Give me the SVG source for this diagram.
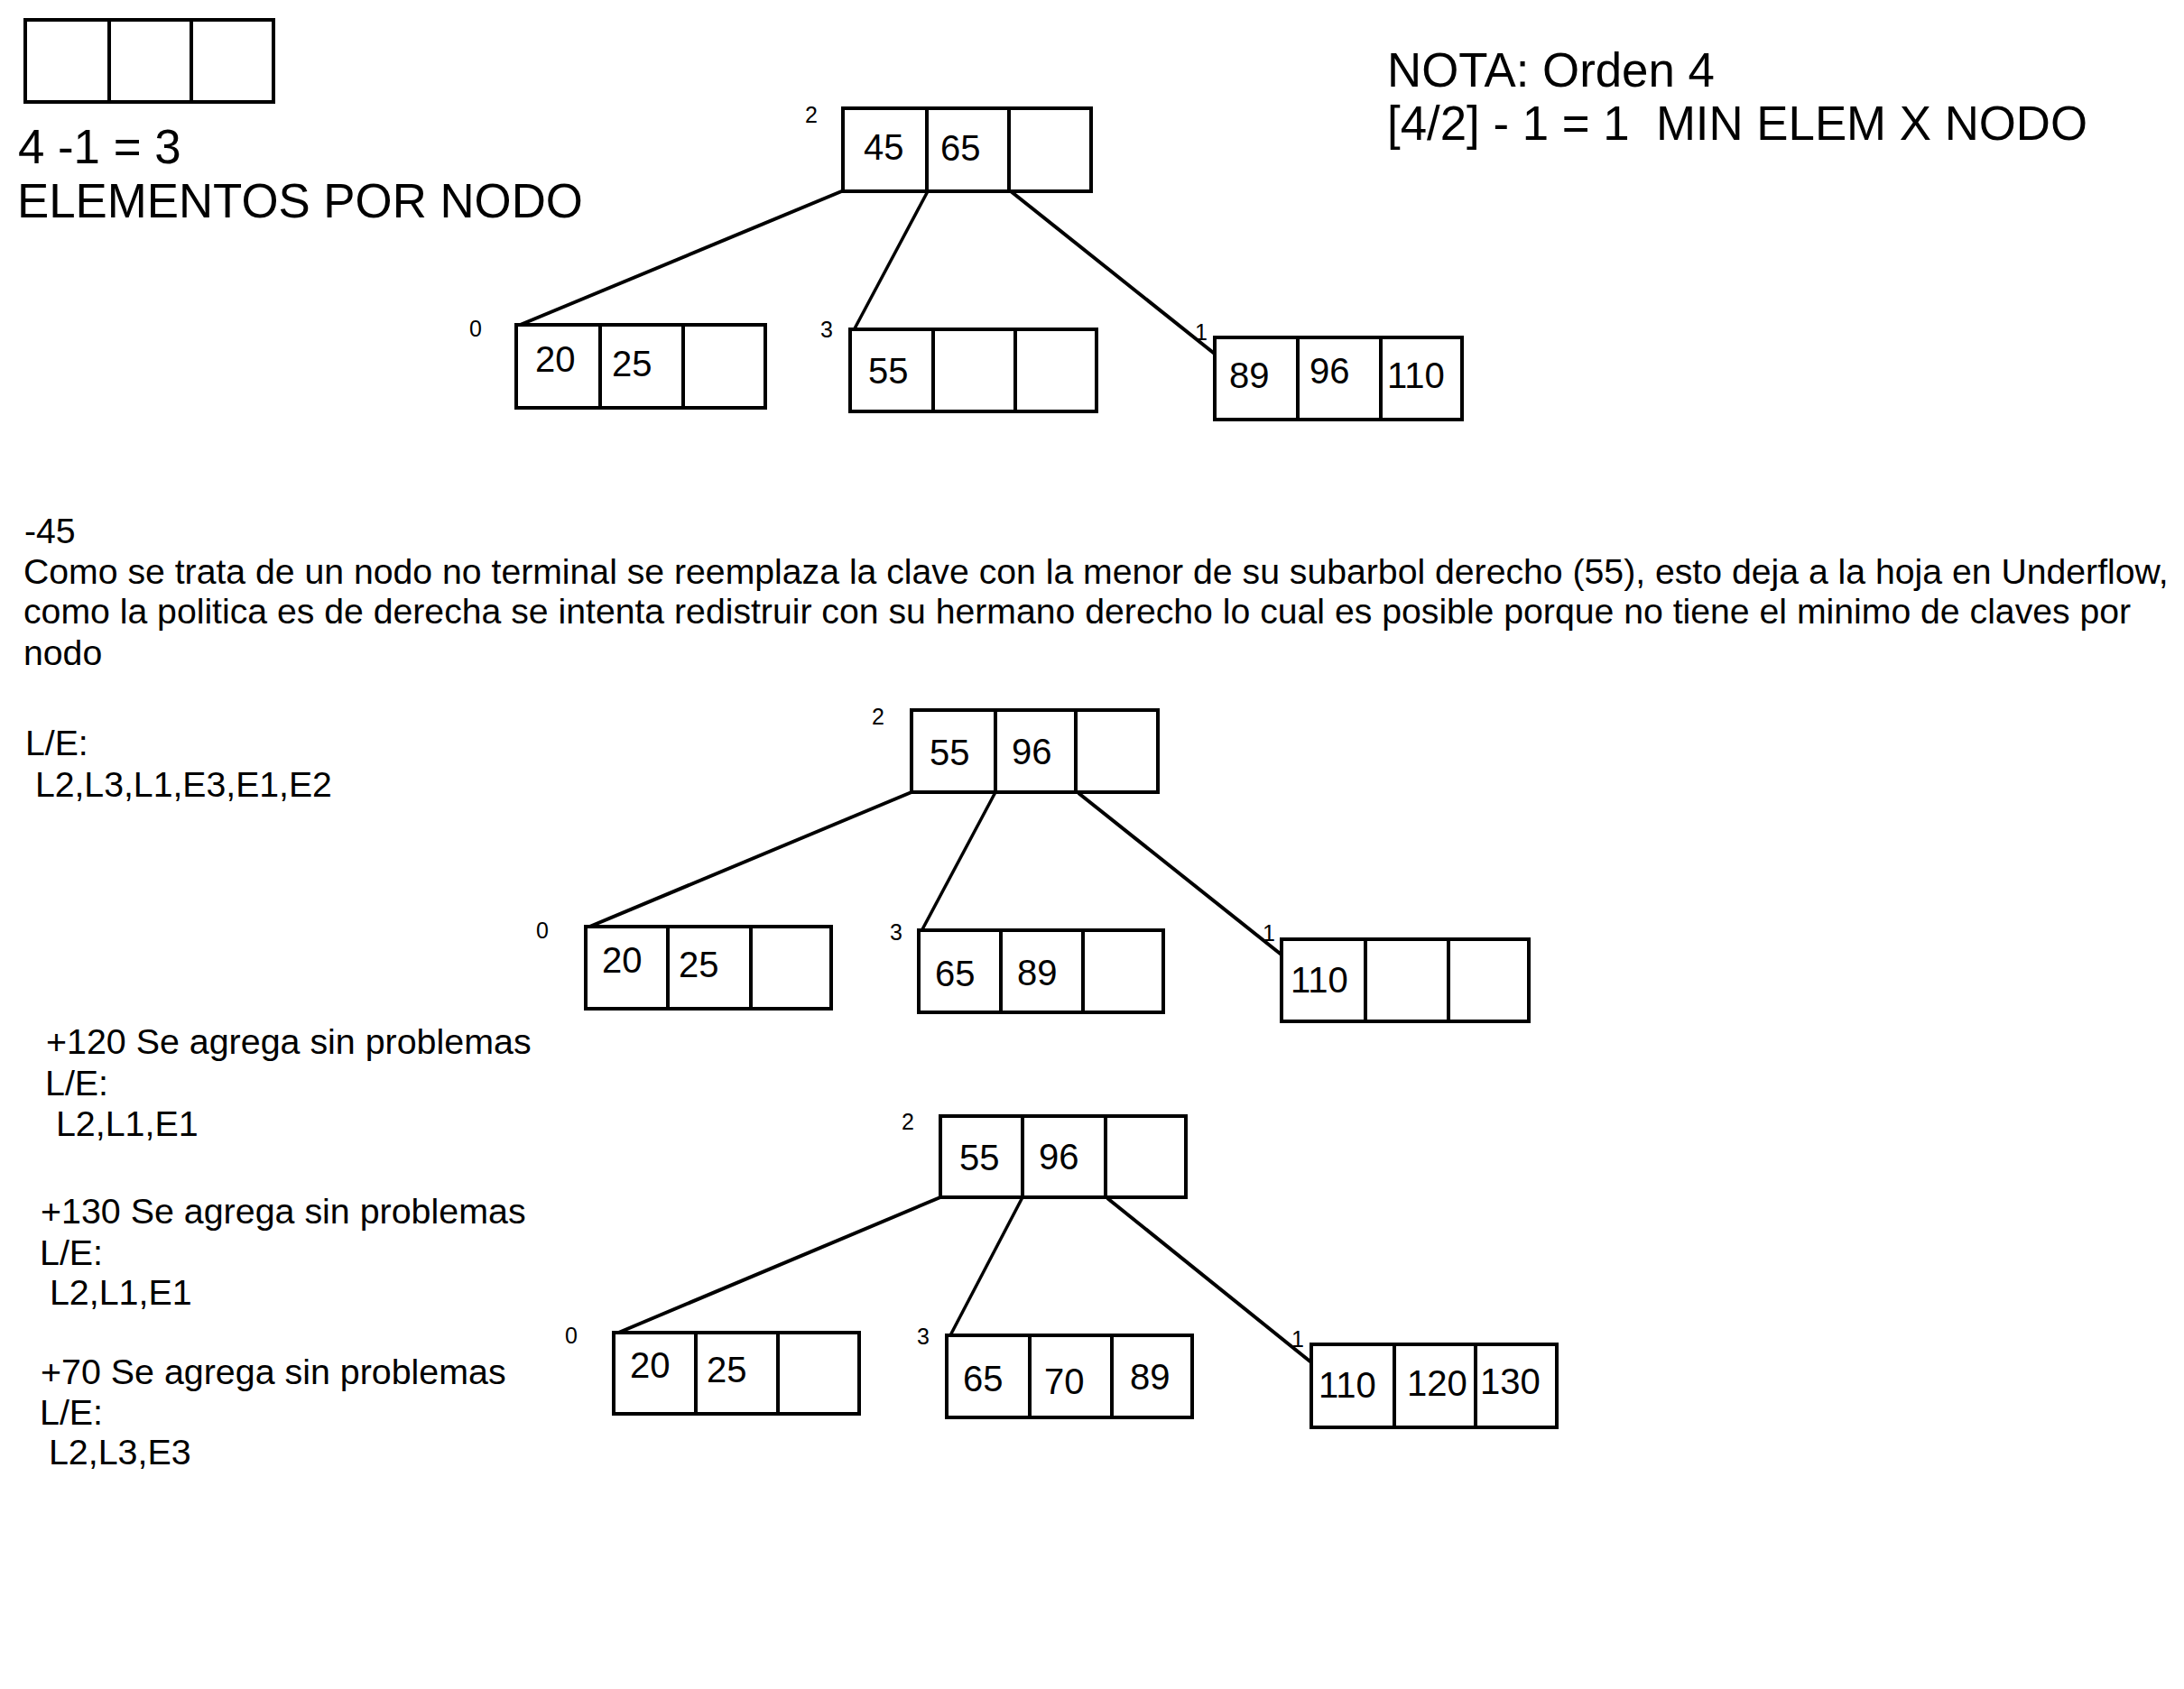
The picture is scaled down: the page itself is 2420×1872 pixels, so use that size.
<svg xmlns="http://www.w3.org/2000/svg" width="2420" height="1872" viewBox="0 0 2420 1872">
<style>
.box{fill:#fff;stroke:#000;stroke-width:4}
.dv{stroke:#000;stroke-width:4}
.cn{stroke:#000;stroke-width:4;fill:none}
.cm{stroke:#000;stroke-width:3.5;fill:none}
.key{font-family:"Liberation Sans",Arial,sans-serif;font-size:40px;fill:#000}
.lbl{font-family:"Liberation Sans",Arial,sans-serif;font-size:25px;fill:#000}
.big{font-family:"Liberation Sans",Arial,sans-serif;font-size:52.8px;fill:#000}
.txt{font-family:"Liberation Sans",Arial,sans-serif;font-size:39.4px;fill:#000}
.par{font-family:"Liberation Sans",Arial,sans-serif;font-size:39.2px;fill:#000}
</style>
<rect width="2420" height="1872" fill="#fff"/>

<g id="legend">
<rect class="box" x="28" y="22" width="275" height="91"/>
<line class="dv" x1="121" y1="22" x2="121" y2="113"/>
<line class="dv" x1="212" y1="22" x2="212" y2="113"/>
<text class="big" x="20" y="181">4 -1 = 3</text>
<text class="big" x="19" y="241">ELEMENTOS POR NODO</text>
</g>

<g id="nota">
<text class="big" x="1537" y="96">NOTA: Orden 4</text>
<text class="big" x="1537" y="155" xml:space="preserve">[4/2] - 1 = 1  MIN ELEM X NODO</text>
</g>

<g id="explicacion">
<text class="par" x="27" y="602">-45</text>
<text class="par" x="26" y="647">Como se trata de un nodo no terminal se reemplaza la clave con la menor de su subarbol derecho (55), esto deja a la hoja en Underflow,</text>
<text class="par" x="26" y="691">como la politica es de derecha se intenta redistruir con su hermano derecho lo cual es posible porque no tiene el minimo de claves por</text>
<text class="par" x="26" y="737">nodo</text>
<text class="par" x="28" y="837">L/E:</text>
<text class="par" x="28" y="883" xml:space="preserve"> L2,L3,L1,E3,E1,E2</text>
</g>

<g id="operaciones">
<text class="txt" x="51" y="1168">+120 Se agrega sin problemas</text>
<text class="txt" x="50" y="1214">L/E:</text>
<text class="txt" x="51" y="1259" xml:space="preserve"> L2,L1,E1</text>
<text class="txt" x="45" y="1356">+130 Se agrega sin problemas</text>
<text class="txt" x="44" y="1402">L/E:</text>
<text class="txt" x="44" y="1446" xml:space="preserve"> L2,L1,E1</text>
<text class="txt" x="45" y="1534">+70 Se agrega sin problemas</text>
<text class="txt" x="44" y="1579">L/E:</text>
<text class="txt" x="43" y="1623" xml:space="preserve"> L2,L3,E3</text>
</g>

<g id="connectors">
<line class="cn" x1="935" y1="211" x2="574" y2="361"/>
<line class="cm" x1="1028" y1="212" x2="946" y2="366"/>
<line class="cn" x1="1120" y1="212" x2="1347" y2="393"/>
<line class="cn" x1="1010" y1="878" x2="651" y2="1028"/>
<line class="cm" x1="1103" y1="878" x2="1021" y2="1032"/>
<line class="cn" x1="1195" y1="879" x2="1421" y2="1059"/>
<line class="cn" x1="1042" y1="1327" x2="683" y2="1478"/>
<line class="cm" x1="1133" y1="1327" x2="1052" y2="1482"/>
<line class="cn" x1="1227" y1="1328" x2="1453" y2="1510"/>
</g>

<g id="t1-root">
<rect class="box" x="934" y="120" width="275" height="92"/>
<line class="dv" x1="1027" y1="120" x2="1027" y2="212"/>
<line class="dv" x1="1118" y1="120" x2="1118" y2="212"/>
<text class="lbl" x="892" y="136">2</text>
<text class="key" x="957" y="177">45</text>
<text class="key" x="1042" y="178">65</text>
</g>
<g id="t1-n0">
<rect class="box" x="572" y="360" width="276" height="92"/>
<line class="dv" x1="665" y1="360" x2="665" y2="452"/>
<line class="dv" x1="757" y1="360" x2="757" y2="452"/>
<text class="lbl" x="520" y="373">0</text>
<text class="key" x="593" y="412">20</text>
<text class="key" x="678" y="417">25</text>
</g>
<g id="t1-n3">
<rect class="box" x="942" y="365" width="273" height="91"/>
<line class="dv" x1="1034" y1="365" x2="1034" y2="456"/>
<line class="dv" x1="1125" y1="365" x2="1125" y2="456"/>
<text class="lbl" x="909" y="374">3</text>
<text class="key" x="962" y="425">55</text>
</g>
<g id="t1-n1">
<rect class="box" x="1346" y="374" width="274" height="91"/>
<line class="dv" x1="1438" y1="374" x2="1438" y2="465"/>
<line class="dv" x1="1530" y1="374" x2="1530" y2="465"/>
<text class="lbl" x="1324" y="377">1</text>
<text class="key" x="1362" y="430">89</text>
<text class="key" x="1451" y="425">96</text>
<text class="key" x="1537" y="430">110</text>
</g>

<g id="t2-root">
<rect class="box" x="1010" y="787" width="273" height="91"/>
<line class="dv" x1="1103" y1="787" x2="1103" y2="878"/>
<line class="dv" x1="1192" y1="787" x2="1192" y2="878"/>
<text class="lbl" x="966" y="803">2</text>
<text class="key" x="1030" y="848">55</text>
<text class="key" x="1121" y="847">96</text>
</g>
<g id="t2-n0">
<rect class="box" x="649" y="1027" width="272" height="91"/>
<line class="dv" x1="740" y1="1027" x2="740" y2="1118"/>
<line class="dv" x1="832" y1="1027" x2="832" y2="1118"/>
<text class="lbl" x="594" y="1040">0</text>
<text class="key" x="667" y="1078">20</text>
<text class="key" x="752" y="1083">25</text>
</g>
<g id="t2-n3">
<rect class="box" x="1018" y="1031" width="271" height="91"/>
<line class="dv" x1="1109" y1="1031" x2="1109" y2="1122"/>
<line class="dv" x1="1200" y1="1031" x2="1200" y2="1122"/>
<text class="lbl" x="986" y="1042">3</text>
<text class="key" x="1036" y="1093">65</text>
<text class="key" x="1127" y="1092">89</text>
</g>
<g id="t2-n1">
<rect class="box" x="1420" y="1041" width="274" height="91"/>
<line class="dv" x1="1513" y1="1041" x2="1513" y2="1132"/>
<line class="dv" x1="1605" y1="1041" x2="1605" y2="1132"/>
<text class="lbl" x="1399" y="1043">1</text>
<text class="key" x="1430" y="1100">110</text>
</g>

<g id="t3-root">
<rect class="box" x="1042" y="1237" width="272" height="90"/>
<line class="dv" x1="1133" y1="1237" x2="1133" y2="1327"/>
<line class="dv" x1="1225" y1="1237" x2="1225" y2="1327"/>
<text class="lbl" x="999" y="1252">2</text>
<text class="key" x="1063" y="1297">55</text>
<text class="key" x="1151" y="1296">96</text>
</g>
<g id="t3-n0">
<rect class="box" x="680" y="1477" width="272" height="90"/>
<line class="dv" x1="771" y1="1477" x2="771" y2="1567"/>
<line class="dv" x1="862" y1="1477" x2="862" y2="1567"/>
<text class="lbl" x="626" y="1489">0</text>
<text class="key" x="698" y="1527">20</text>
<text class="key" x="783" y="1532">25</text>
</g>
<g id="t3-n3">
<rect class="box" x="1049" y="1480" width="272" height="91"/>
<line class="dv" x1="1141" y1="1480" x2="1141" y2="1571"/>
<line class="dv" x1="1232" y1="1480" x2="1232" y2="1571"/>
<text class="lbl" x="1016" y="1490">3</text>
<text class="key" x="1067" y="1542">65</text>
<text class="key" x="1157" y="1545">70</text>
<text class="key" x="1252" y="1540">89</text>
</g>
<g id="t3-n1">
<rect class="box" x="1453" y="1490" width="272" height="92"/>
<line class="dv" x1="1545" y1="1490" x2="1545" y2="1582"/>
<line class="dv" x1="1635" y1="1490" x2="1635" y2="1582"/>
<text class="lbl" x="1431" y="1493">1</text>
<text class="key" x="1461" y="1549">110</text>
<text class="key" x="1559" y="1547">120</text>
<text class="key" x="1640" y="1545">130</text>
</g>
</svg>
